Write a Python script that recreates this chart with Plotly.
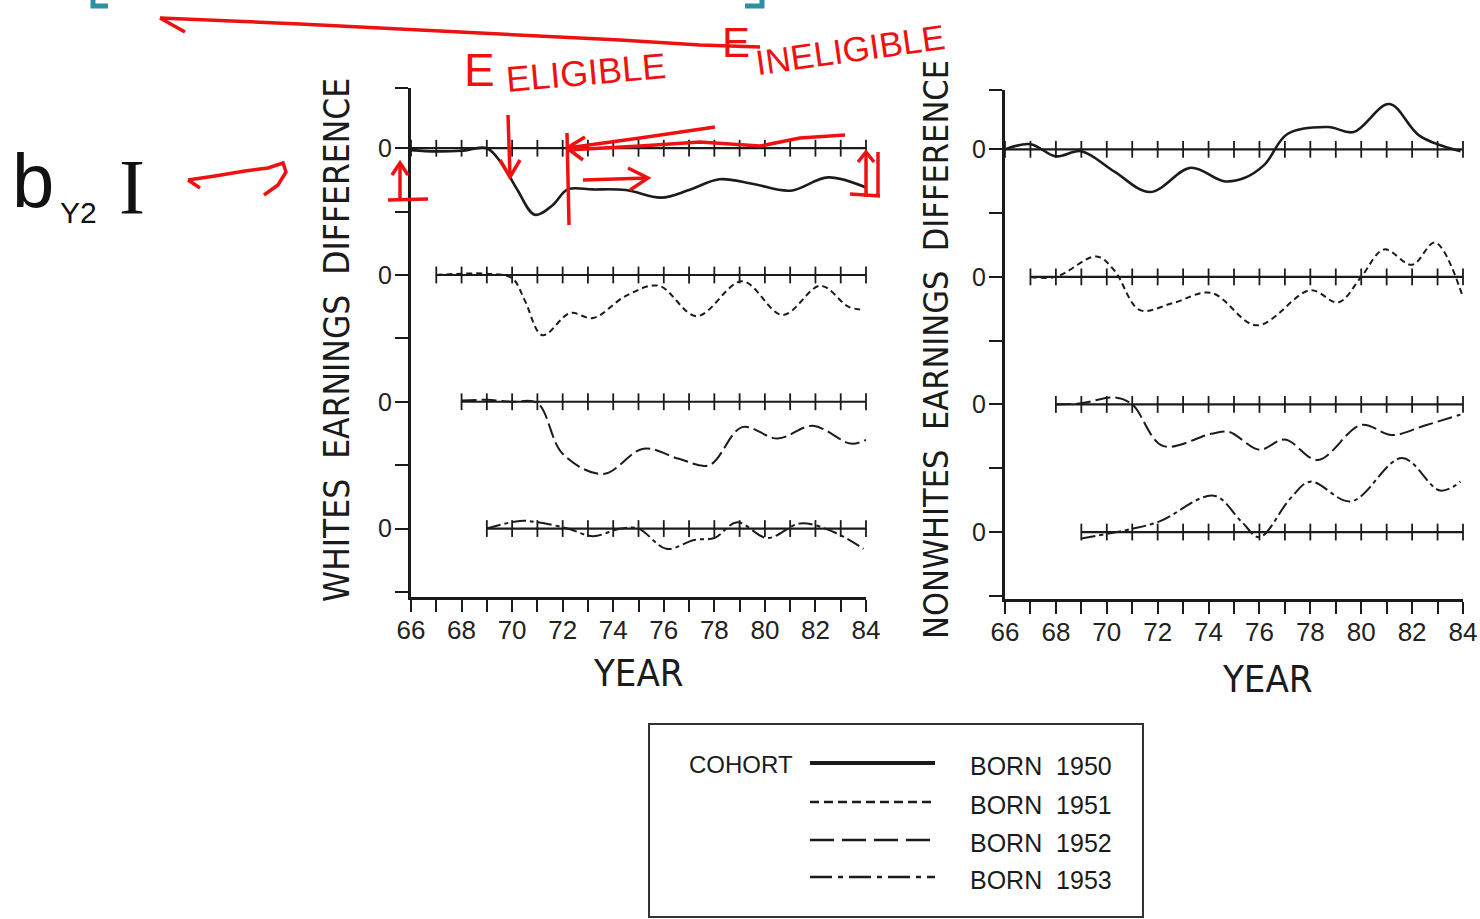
import plotly.graph_objects as go

W, H = 1480, 919

# ---------------- data ----------------
years = list(range(66, 85))
x_ticktext = [str(y) if y % 2 == 0 else "" for y in years]
y_tickvals_left = [0, 1, 2, 3, 4, 5, 6, 7, 7.95]
y_tickvals_right = [0, 1, 2, 3, 4, 5, 6, 7, 7.93]
y_ticktext = ["", "0", "", "0", "", "0", "", "0", ""]

cohorts = ["BORN 1950", "BORN 1951", "BORN 1952", "BORN 1953"]
baseline_offsets = [7, 5, 3, 1]      # vertical position of each cohort's zero line
cohort_start = [66, 67, 68, 69]      # first year of each cohort's zero line

# Whites earnings difference (offset from each cohort's zero line)
w1950_x = [66, 67, 68, 69, 69.6, 70.2, 70.9, 71.6, 72.2, 73.2, 74.5, 75.9, 77.0, 78.2, 79.5, 81.0, 82.5, 84.0]
w1950_v = [-0.03, -0.05, -0.04, 0.0, -0.25, -0.65, -1.05, -0.9, -0.65, -0.65, -0.66, -0.78, -0.66, -0.49, -0.56, -0.67, -0.46, -0.62]
w1951_x = [67, 68, 69, 70, 70.5, 71.2, 72.3, 73.2, 74.5, 75.8, 77.3, 79.1, 80.7, 82.2, 83.3, 83.9]
w1951_v = [0.0, 0.02, 0.02, -0.05, -0.4, -0.95, -0.6, -0.68, -0.33, -0.17, -0.65, -0.1, -0.63, -0.17, -0.5, -0.55]
w1952_x = [68, 69, 70, 71, 72, 73.6, 75.2, 76.6, 77.8, 79.1, 80.5, 81.9, 83.4, 84]
w1952_v = [0.02, 0.03, 0.0, -0.02, -0.82, -1.14, -0.74, -0.9, -1.0, -0.4, -0.58, -0.38, -0.66, -0.6]
w1953_x = [69, 70.3, 71, 72.2, 73.2, 74.3, 75, 76.1, 77.2, 78, 78.9, 80.1, 81.4, 82.7, 83.9]
w1953_v = [0.0, 0.12, 0.1, 0.0, -0.12, 0.0, 0.0, -0.32, -0.18, -0.15, 0.1, -0.15, 0.08, -0.05, -0.32]

# Nonwhites earnings difference
n1950_x = [66, 67, 68, 69, 70.3, 71.7, 73.3, 74.6, 75.4, 76.2, 77.1, 78.7, 79.7, 81.1, 82.3, 83.9]
n1950_v = [0.0, 0.08, -0.11, -0.03, -0.35, -0.67, -0.29, -0.5, -0.45, -0.24, 0.24, 0.35, 0.27, 0.71, 0.21, -0.03]
n1951_x = [67, 68, 69.6, 70.3, 71.3, 72.6, 74.1, 75.9, 78.0, 79.1, 80.0, 80.9, 82.0, 82.9, 84.0]
n1951_v = [0.0, 0.0, 0.32, 0.1, -0.52, -0.41, -0.25, -0.76, -0.21, -0.4, 0.0, 0.43, 0.19, 0.54, -0.32]
n1952_x = [68, 69, 70.3, 71, 72.2, 74.1, 74.8, 76.0, 77.0, 78.3, 80.0, 81.2, 82.5, 83.9]
n1952_v = [0.0, 0.02, 0.11, 0.0, -0.65, -0.46, -0.43, -0.71, -0.55, -0.87, -0.32, -0.48, -0.33, -0.16]
n1953_x = [69, 71, 72.1, 74.2, 75.3, 76.0, 77.2, 78.0, 79.6, 81.6, 83.1, 83.9]
n1953_v = [-0.1, 0.05, 0.17, 0.57, 0.16, -0.08, 0.52, 0.79, 0.48, 1.16, 0.65, 0.79]

whites = [(w1950_x, w1950_v), (w1951_x, w1951_v), (w1952_x, w1952_v), (w1953_x, w1953_v)]
nonwhites = [(n1950_x, n1950_v), (n1951_x, n1951_v), (n1952_x, n1952_v), (n1953_x, n1953_v)]

# ---------------- styles ----------------
INK = "#1b1b1b"
plot_dashes = ["solid", "6px,4px", "15px,5px", "14px,4px,4px,4px"]
legend_dashes = ["solid", "9px,5px", "24px,8px", "22px,6px,5px,6px"]
widths = [2.6, 2.0, 2.0, 2.0]
FONT = "Liberation Sans, Arial, sans-serif"
NARROW = "Liberation Sans Narrow, DejaVu Sans Condensed, Arial Narrow, Liberation Sans, sans-serif"
SERIF = "Liberation Serif, DejaVu Serif, serif"


def fx(px):
    return px / W


def fy(py):
    return 1 - py / H


fig = go.Figure()

panels = [("x", "y", whites), ("x2", "y2", nonwhites)]
for xa, ya, series in panels:
    for i, (xs, vs) in enumerate(series):
        base = baseline_offsets[i]
        yrs = [y for y in years if y >= cohort_start[i]]
        fig.add_trace(go.Scatter(
            x=yrs, y=[base] * len(yrs), xaxis=xa, yaxis=ya, mode="lines+markers",
            line=dict(color=INK, width=2.2),
            marker=dict(symbol="line-ns", size=12, line=dict(color=INK, width=1.8)),
            showlegend=False, hoverinfo="skip", cliponaxis=False))
        fig.add_trace(go.Scatter(
            x=xs, y=[base + v for v in vs], xaxis=xa, yaxis=ya, mode="lines",
            line=dict(color=INK, width=widths[i], dash=plot_dashes[i], shape="spline", smoothing=1.0),
            name=cohorts[i], showlegend=False))

xcommon = dict(range=[66, 84], tickvals=years, ticktext=x_ticktext, ticks="outside", ticklen=12,
               tickwidth=2, tickcolor=INK, showline=True, linewidth=3, linecolor=INK,
               ticklabelstandoff=-4,
               showgrid=False, zeroline=False, tickfont=dict(family=FONT, size=26, color="#222"))
ycommon = dict(ticktext=y_ticktext, ticks="outside", ticklen=13,
               tickwidth=2, tickcolor=INK, showline=True, linewidth=3, linecolor=INK,
               ticklabelstandoff=-2,
               showgrid=False, zeroline=False, tickfont=dict(family=FONT, size=25, color="#222"))

fig.update_layout(
    width=W, height=H, margin=dict(l=0, r=0, t=0, b=0, autoexpand=False),
    autosize=False,
    paper_bgcolor="white", plot_bgcolor="white", showlegend=False,
    xaxis=dict(domain=[fx(411), fx(866)], anchor="y", **xcommon),
    yaxis=dict(domain=[fy(597), fy(88)], anchor="x", range=[-0.08, 7.95],
               tickvals=y_tickvals_left, **ycommon),
    xaxis2=dict(domain=[fx(1005), fx(1463)], anchor="y2", **xcommon),
    yaxis2=dict(domain=[fy(599), fy(90)], anchor="x2", range=[-0.05, 7.93],
                tickvals=y_tickvals_right, **ycommon),
)

ann = []
# axis titles
ann.append(dict(text="WHITES  EARNINGS  DIFFERENCE", x=fx(337), y=fy(340), textangle=-90,
                font=dict(family=NARROW, size=35, color=INK)))
ann.append(dict(text="NONWHITES  EARNINGS  DIFFERENCE", x=fx(936), y=fy(350), textangle=-90,
                font=dict(family=NARROW, size=34, color=INK)))
ann.append(dict(text="YEAR", x=fx(638), y=fy(673), font=dict(family=NARROW, size=38, color=INK)))
ann.append(dict(text="YEAR", x=fx(1267), y=fy(679), font=dict(family=NARROW, size=38, color=INK)))

# legend box content
shapes = [dict(type="rect", xref="paper", yref="paper", x0=fx(649), x1=fx(1143), y0=fy(917), y1=fy(724),
               line=dict(color="#333", width=2))]
ann.append(dict(text="COHORT", x=fx(687), y=fy(764), xanchor="left",
                font=dict(family=FONT, size=24, color=INK)))
leg_rows = [763, 802, 840, 877]
for i, c in enumerate(cohorts):
    shapes.append(dict(type="line", xref="paper", yref="paper", x0=fx(810), x1=fx(935),
                       y0=fy(leg_rows[i]), y1=fy(leg_rows[i]),
                       line=dict(color=INK, width=4 if i == 0 else 2.5, dash=legend_dashes[i])))
    ann.append(dict(text=c.replace(" ", "\u00a0\u00a0"), x=fx(968), y=fy(leg_rows[i] + 3), xanchor="left",
                    font=dict(family=FONT, size=25, color=INK)))

# handwritten annotations
RED = "#ee1111"
ann.append(dict(text="E", x=fx(479), y=fy(70), font=dict(family=FONT, size=46, color=RED)))
ann.append(dict(text="ELIGIBLE", x=fx(586), y=fy(73), textangle=-5, font=dict(family=FONT, size=36, color=RED)))
ann.append(dict(text="E", x=fx(736), y=fy(42), font=dict(family=FONT, size=42, color=RED)))
ann.append(dict(text="INELIGIBLE", x=fx(851), y=fy(50), textangle=-8, font=dict(family=FONT, size=35, color=RED)))
ann.append(dict(text="b", x=fx(33), y=fy(180), font=dict(family=FONT, size=76, color="#111")))
ann.append(dict(text="Y2", x=fx(78), y=fy(212), font=dict(family=FONT, size=30, color="#111")))
ann.append(dict(text="I", x=fx(132), y=fy(186), font=dict(family=SERIF, size=78, color="#111")))


def path(points):
    return "M " + " L ".join(f"{fx(a):.5f},{fy(b):.5f}" for a, b in points)


red_paths = [
    [(160, 18), (300, 24), (460, 32), (620, 40), (700, 45), (760, 47)],
    [(160, 18), (185, 32)],
    [(188, 180), (215, 176), (245, 171), (268, 168), (283, 163), (286, 172), (278, 185), (264, 195)],
    [(188, 180), (200, 188)],
    [(400, 165), (400, 200)], [(392, 175), (400, 163), (408, 175)], [(388, 200), (428, 199)],
    [(508, 115), (510, 175)], [(500, 160), (510, 177), (520, 160)],
    [(567, 133), (569, 225)],
    [(567, 148), (640, 138), (715, 127)], [(567, 148), (585, 137)], [(567, 148), (583, 160)],
    [(567, 150), (640, 146), (700, 142), (760, 146), (800, 138), (845, 135)],
    [(583, 180), (648, 178)], [(628, 168), (648, 178), (630, 190)],
    [(866, 152), (866, 197)], [(878, 152), (878, 197)], [(858, 162), (866, 152), (874, 162)],
    [(850, 194), (880, 196)],
]
for p in red_paths:
    shapes.append(dict(type="path", xref="paper", yref="paper", path=path(p),
                       line=dict(color=RED, width=3.5)))

teal = "#2f8fa3"
shapes.append(dict(type="path", xref="paper", yref="paper", path=path([(93, 0), (93, 6), (108, 6)]),
                   line=dict(color=teal, width=5)))
shapes.append(dict(type="path", xref="paper", yref="paper", path=path([(745, 6), (762, 6), (762, 0)]),
                   line=dict(color=teal, width=5)))

for a in ann:
    a.setdefault("xref", "paper")
    a.setdefault("yref", "paper")
    a.setdefault("showarrow", False)
    a.setdefault("xanchor", "center")
    a.setdefault("yanchor", "middle")
fig.update_layout(annotations=ann, shapes=shapes)

fig.write_html(
    "out.html",
    config={"responsive": False, "displayModeBar": False},
    post_script="document.body.style.margin='0';document.body.style.padding='0';document.body.style.overflow='hidden';",
)
